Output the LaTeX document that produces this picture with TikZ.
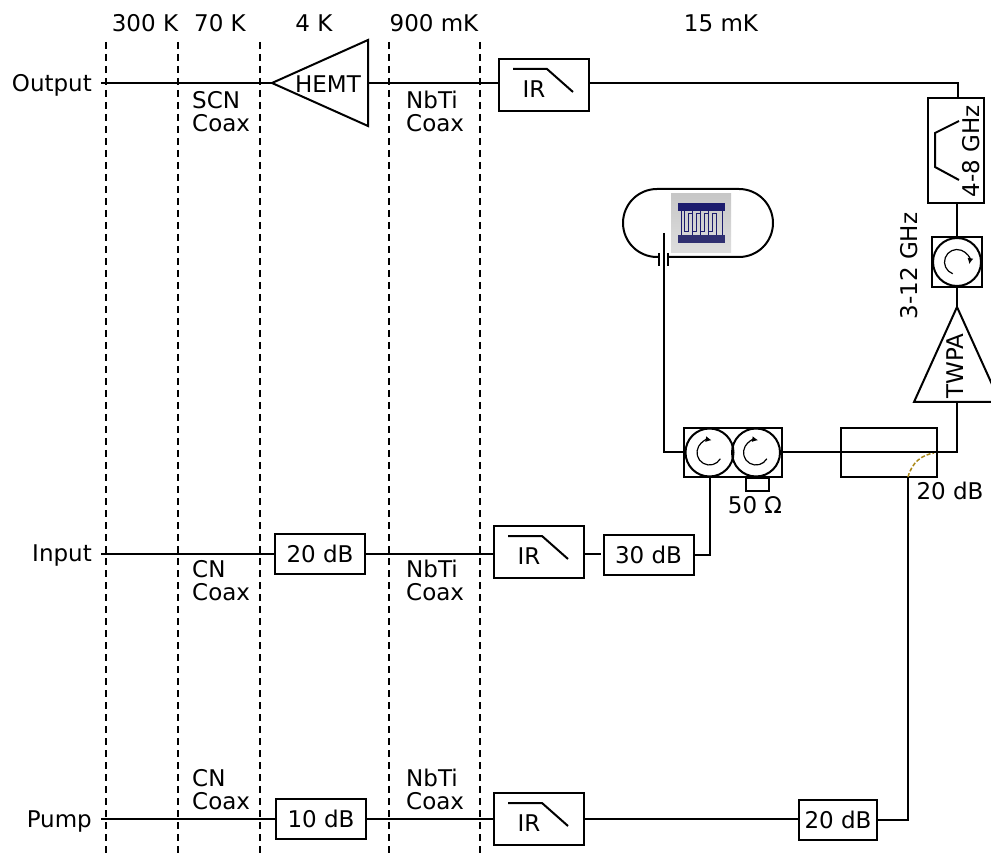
\documentclass[tikz,border=0pt]{standalone}
\usepackage{fontspec}
\setmainfont{DejaVu Sans}
\usetikzlibrary{arrows.meta}
\definecolor{mynavy}{RGB}{28, 28, 110}
\definecolor{mygold}{RGB}{170, 135, 20}
\tikzset{
  wire/.style={line width=2pt},
  stage/.style={line width=1.6pt,dash pattern=on 7pt off 5pt},
  lbl/.style={inner sep=0pt,font=\fontsize{23}{25}\selectfont},
  atten/.style={draw,line width=2pt,minimum width=90pt,minimum height=40pt,inner sep=0pt,font=\fontsize{23}{25}\selectfont},
  irbox/.style={draw,line width=2pt,minimum width=90pt,minimum height=52pt,inner sep=0pt},
  cable/.style={lbl,anchor=west},
  circ/.style={draw,circle,line width=2pt,minimum size=48pt,inner sep=0pt},
}
\begin{document}
\begin{tikzpicture}[x=1pt,y=-1pt]
  \clip (0,0) rectangle (991,858);
  \useasboundingbox (0,0) rectangle (991,858);
  \fill[white] (0,0) rectangle (991,858);

%temperature stages:
  \foreach \xs in {106,178,260,389,480}
    \draw[stage] (\xs,42) -- (\xs,858);
  \node[lbl] (t300) at (145,23) {300 K};
  \node[lbl] (t70) at (220,23) {70 K};
  \node[lbl] (t4) at (314,23) {4 K};
  \node[lbl] (t900) at (434,23) {900 mK};
  \node[lbl] (t15) at (721,23) {15 mK};

%line names:
  \node[lbl,anchor=east] (output) at (92,85) {Output};
  \node[lbl,anchor=east] (input) at (92,556) {Input};
  \node[lbl,anchor=east] (pump) at (92,822) {Pump};
  \coordinate (outend) at (101,83);
  \coordinate (inend) at (101,554);
  \coordinate (pumpend) at (101,819);

%cables:
  \foreach \xs/\ys/\nm/\txt in {192/100/c1/SCN,406/100/c2/NbTi,192/569/c3/CN,406/569/c4/NbTi,192/778/c5/CN,406/778/c6/NbTi}{
    \node[cable] (\nm) at (\xs,\ys) {\txt};
    \node[cable] (\nm coax) at (\xs,\ys+23) {Coax};
  }

%filters:
  \node[irbox] (irout) at (544,85) {};
  \node[irbox] (irin) at (539,552) {};
  \node[irbox] (irpump) at (539,819) {};
  \foreach \bx/\nm in {irout/a,irin/b,irpump/c}{
    \node[lbl] (irtxt\nm) at ([xshift=-10pt,yshift=-4pt]\bx.center) {IR};
    \draw[wire] ([xshift=-31pt,yshift=16pt]\bx.center) -- ([xshift=3pt,yshift=16pt]\bx.center) -- ([xshift=29pt,yshift=-7pt]\bx.center);
  }

%attenuators:
  \node[atten] (a20) at (320,554) {20 dB};
  \node[atten] (a30) at (648.5,554.5) {30 dB};
  \node[atten] (a10) at (321,819) {10 dB};
  \node[atten,minimum width=78pt] (a20b) at (838,819.5) {20 dB};

%HEMT:
  \coordinate (hemtin) at (272,83);
  \coordinate (hemtout) at (368,83);
  \draw[wire,line join=miter] (hemtin) -- (368,40) -- (368,126) -- cycle;
  \node[lbl] (hemt) at (328,84) {HEMT};

%bandpass:
  \node[draw,line width=2pt,minimum width=56pt,minimum height=105pt,inner sep=0pt] (bp) at (956,150.5) {};
  \draw[wire] (959,121) -- (935,133) -- (935,167) -- (959,180);
  \node[lbl,rotate=90] (bptxt) at (971,151) {4-8 GHz};

%isolator:
  \node[draw,line width=2pt,minimum size=50pt,inner sep=0pt] (isobox) at (957,262) {};
  \node[circ] (iso) at (957,262) {};
  \node[lbl,rotate=90] (band) at (909,266) {3-12 GHz};

%TWPA:
  \coordinate (twpatop) at (957,307);
  \coordinate (twpabot) at (957,402);
  \draw[wire,line join=miter] (twpatop) -- (914,402) -- (1000,402) -- cycle;
  \node[lbl,rotate=90] (twpa) at (955,366) {TWPA};

%double circulator:
  \node[draw,line width=2pt,minimum width=98pt,minimum height=49pt,inner sep=0pt] (cbox) at (733,452.5) {};
  \node[circ] (c1c) at (709.5,452.5) {};
  \node[circ] (c2c) at (756,452.5) {};
  \foreach \cc/\sa/\ea in {iso/-110/-370,c1c/-30/-280,c2c/-30/-280}
    \draw[shift={(\cc.center)},y=1pt,line width=1.2pt,-{Latex[length=6pt,width=6pt]}] (\sa:12.5) arc[start angle=\sa,end angle=\ea,radius=12.5];
  \node[draw,line width=2pt,minimum width=23pt,minimum height=13pt,inner sep=0pt] (term) at (757.5,484.5) {};
  \node[lbl] (ohm) at (755,505) {50 Ω};

%coupler:
  \node[draw,line width=2pt,minimum width=96pt,minimum height=49pt,inner sep=0pt] (coup) at (889,452.5) {};
  \coordinate (coupin) at (908,477);
  \draw[line width=1.5pt,dash pattern=on 4pt off 2pt,color=mygold] (coupin) .. controls (912,462) and (922,455) .. (934,453);
  \node[lbl] (cdb) at (950,491) {20 dB};

%chip:
  \draw[line width=2pt,rounded corners=34pt] (659,257) -- (623,257) -- (623,189) -- (773,189) -- (773,257) -- (668,257);
  \shade[top color=black!22,bottom color=black!13] (671,194) rectangle (731,253);
  \fill[mynavy] (678,203) rectangle (725,211);
  \fill[mynavy!80!gray] (678,235) rectangle (725,243);
  \draw[mynavy,line width=1pt] (681,211) -- (681,235);
  \draw[mynavy,line width=1pt] (722,211) -- (722,235);
  \foreach \xf in {684,692,700,708}
    \draw[mynavy,line width=1pt] (\xf,211) -- (\xf,232) -- (\xf+4,232) -- (\xf+4,214) -- (\xf+8,214) -- (\xf+8,235);
  \coordinate (chipin) at (663.5,233);
  \draw[wire] (659,253) -- (659,266);
  \draw[wire] (668,253) -- (668,266);

%wiring:
  \draw[wire] (outend) -- (hemtin);
  \draw[wire] (hemtout) -- (irout.west |- hemtout);
  \draw[wire] (irout.east |- hemtout) -- (958,83) -- (bp.north -| 958,83);
  \draw[wire] (bp.south -| iso.north) -- (isobox.north);
  \draw[wire] (isobox.south) -- (twpatop);
  \draw[wire] (twpabot) -- (957,452) -- (cbox.east |- 0,452);
  \draw[wire] (chipin) -- (663.5,452) -- (cbox.west |- 0,452);
  \draw[wire] (inend) -- (a20.west);
  \draw[wire] (a20.east) -- (irin.west |- 0,554);
  \draw[wire] (irin.east |- 0,554) -- ++(16,0);
  \draw[wire] (a30.east) -- (709.5,554.5) -- (709.5,477);
  \draw[wire] (pumpend) -- (a10.west);
  \draw[wire] (a10.east) -- (irpump.west);
  \draw[wire] (irpump.east) -- (a20b.west |- irpump.east);
  \draw[wire] (a20b.east) -- (908,819.5) -- (coupin);
\end{tikzpicture}
\end{document}
